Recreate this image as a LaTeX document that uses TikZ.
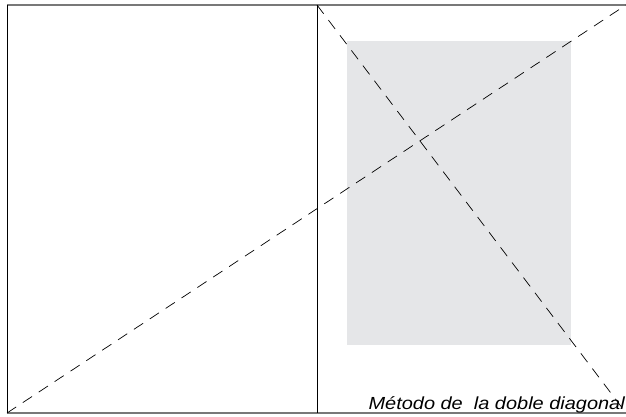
\documentclass[tikz,border=0pt]{standalone}
\usepackage{fontspec}
\setmainfont{Liberation Sans}
\newfontfamily\rotulo[FakeStretch=1.14]{Liberation Sans}
\usetikzlibrary{calc}
\definecolor{mancha}{RGB}{229,230,232}
\definecolor{borde}{RGB}{120,120,120}
\tikzset{diagonal/.style = {dash pattern=on 11pt off 8pt, line width=0.7pt}}

\begin{document}
\begin{tikzpicture}[x=1pt,y=-1pt]
            \useasboundingbox(0,0)rectangle(626,417);
            \coordinate(SI)at(7,5);
            \coordinate(II)at(7,413);
            \coordinate(SC)at(317,5);
            \coordinate(IC)at(317,413);
            \coordinate(SD)at(626,5);
            \coordinate(ID)at(626,413);
            %mancha
            \path[fill=mancha](347,41)rectangle(571,345);
            %pliego
            \path[draw,borde,line width=1.6pt](SI)to(SD);
            \path[draw,borde,line width=1.6pt](II)to(ID);
            \path[draw,line width=1pt](SI)to(II);
            \path[draw,line width=1pt](SC)to(IC);
            %diagonales
            \path[draw,diagonal](II)to(SD);
            \path[draw,diagonal](SC)to(ID);
            \node[anchor=base east,inner sep=0pt,font=\rotulo\fontsize{17.5}{19}\selectfont\itshape](titulo)at(625,409){Método de\ \ la doble diagonal};
        \end{tikzpicture}
\end{document}
